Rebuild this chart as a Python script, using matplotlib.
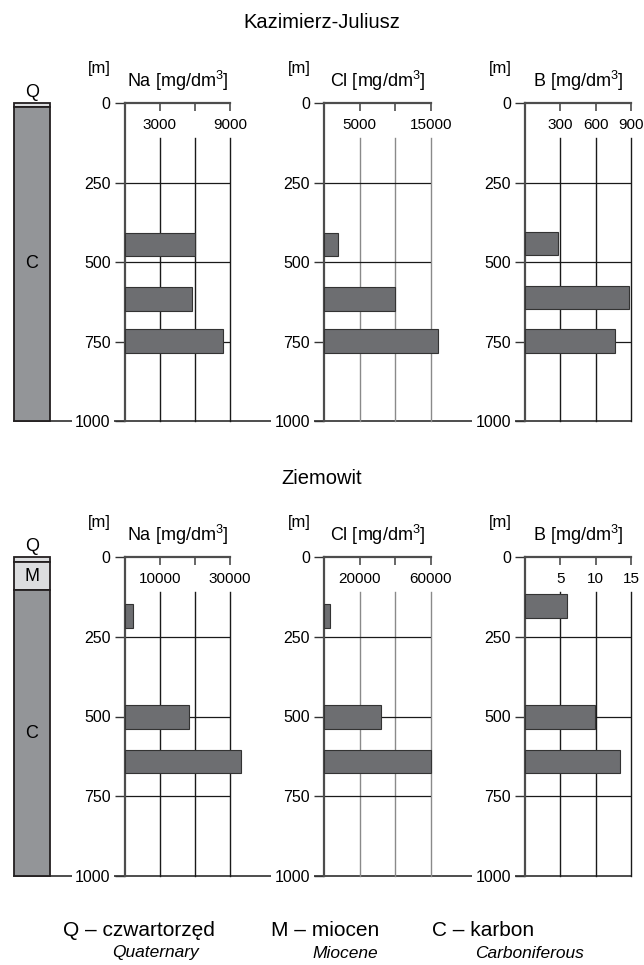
"""Chemistry of mine waters vs depth - two mines"""
import matplotlib
matplotlib.use('Agg')
from matplotlib import pyplot as plt
from matplotlib.lines import Line2D
from matplotlib.transforms import blended_transform_factory

plt.rcParams['font.family'] = ['Liberation Sans', 'DejaVu Sans']
plt.rcParams['mathtext.fontset'] = 'custom'
plt.rcParams['mathtext.rm'] = 'Liberation Sans'
plt.rcParams['mathtext.it'] = 'Liberation Sans:italic'

# --- data -------------------------------------------------------------
elements = ['Na', 'Cl', 'B']
depth_ticks = [0, 250, 500, 750, 1000]

# Kazimierz-Juliusz
kaz_layers = ['Q', 'C']
kaz_layer_top = [0, 12]
kaz_layer_bot = [12, 1000]
kaz_top = [410, 580, 712]
kaz_bot = [482, 655, 787]
kaz_b_top = [405, 575, 712]
kaz_b_bot = [478, 648, 787]
kaz_na = [6000, 5750, 8400]
kaz_cl = [1900, 10000, 16000]
kaz_b = [280, 880, 760]
kaz_xmax = [9000, 15000, 900]
kaz_xlabels = [[3000, 9000], [5000, 15000], [300, 600, 900]]

# Ziemowit
ziem_layers = ['Q', 'M', 'C']
ziem_layer_top = [0, 15, 105]
ziem_layer_bot = [15, 105, 1000]
ziem_top = [148, 464, 604]
ziem_bot = [222, 538, 677]
ziem_b_top = [116, 464, 604]
ziem_b_bot = [191, 538, 677]
ziem_na = [2500, 18300, 33000]
ziem_cl = [3400, 31800, 60000]
ziem_b = [5.9, 9.9, 13.4]
ziem_xmax = [30000, 60000, 15]
ziem_xlabels = [[10000, 30000], [20000, 60000], [5, 10, 15]]

legend_codes = ['Q', 'M', 'C']
legend_pl = ['czwartorzęd', 'miocen', 'karbon']
legend_en = ['Quaternary', 'Miocene', 'Carboniferous']

# --- layout (pixels) --------------------------------------------------
W, H = 644, 965
COL_X = (14, 50)
AX_X = [(124.5, 230), (324, 431), (525, 631)]
LEG_X = [(63, 112), (271, 312), (432, 475)]
SPINE = '#4d4d4d'
BAR = '#6d6e71'
LAYER_COLORS = {'Q': '#dcdddf', 'M': '#dcdddf', 'C': '#939598'}

fig = plt.figure(figsize=(W / 100, H / 100), dpi=100)


def rect(x0, y0, x1, y1):
    return [x0 / W, 1 - y1 / H, (x1 - x0) / W, (y1 - y0) / H]


def draw_column(y0, y1, layers, tops, bots):
    ax = fig.add_axes(rect(COL_X[0], y0, COL_X[1], y1))
    ax.set_xlim(0, 1)
    ax.set_ylim(1000, 0)
    ax.axis('off')
    for name, t, b in zip(layers, tops, bots):
        ax.bar(0.5, b - t, bottom=t, width=1, color=LAYER_COLORS[name],
               edgecolor='#231f20', linewidth=1.3, clip_on=False, zorder=2)
        if b - t < 30:
            ax.text(0.5, t - 6, name, ha='center', va='bottom', fontsize=13)
        else:
            ax.text(0.5, (t + b) / 2, name, ha='center', va='center', fontsize=13)


def draw_chem(y0, y1, k, name, values, tops, bots, xmax, labels):
    x0, x1 = AX_X[k]
    ax = fig.add_axes(rect(x0, y0, x1, y1))
    ax.patch.set_visible(False)
    ax.set_xlim(0, xmax)
    ax.set_ylim(1000, 0)
    centers = [(t + b) / 2 for t, b in zip(tops, bots)]
    heights = [b - t for t, b in zip(tops, bots)]
    ax.barh(centers, values, height=heights, left=0, color=BAR,
            edgecolor='#333333', linewidth=0.8, clip_on=False, zorder=3)
    gcol = '#8a8a8a' if name == 'Cl' else '#1a1a1a'
    for f in (1 / 3, 2 / 3, 1):
        ax.plot([f * xmax, f * xmax], [110, 1000], color=gcol, lw=1,
                clip_on=False, zorder=1)
    for d in (250, 500, 750):
        ax.axhline(d, color='#1a1a1a', lw=0.9, zorder=1)
    for s in ('right', 'bottom'):
        ax.spines[s].set_visible(False)
    for s in ('top', 'left'):
        ax.spines[s].set_color(SPINE)
        ax.spines[s].set_linewidth(1.6)
    ax.set_xticks([xmax / 3, 2 * xmax / 3, xmax])
    ax.tick_params(axis='x', top=True, bottom=False, direction='in', length=6,
                   width=1.2, color=SPINE, labeltop=False, labelbottom=False)
    ax.set_yticks(depth_ticks)
    ax.tick_params(axis='y', direction='out', length=7, width=1, color='#333333',
                   labelsize=11.5, pad=3)
    for t in ax.yaxis.get_major_ticks():
        t.label1.set_bbox(dict(facecolor='white', edgecolor='none', pad=2.5))
    tr = blended_transform_factory(ax.transData, ax.transAxes)
    for v in labels:
        ax.text(v, 1 - 22 / (y1 - y0), str(v), transform=tr, ha='center',
                va='center', fontsize=11)
    fig.text(((x0 + x1) / 2) / W, 1 - (y0 - 16) / H,
             name + r' [mg/dm$^{3}$]', ha='center', va='baseline', fontsize=13)
    fig.text((x0 - 25) / W, 1 - (y0 - 30) / H, '[m]', ha='center',
             va='baseline', fontsize=12)


def draw_panel(title, ty, y0, y1, layers, ltops, lbots, series, xmaxes, xlabels):
    fig.text(322 / W, 1 - ty / H, title, ha='center', va='center', fontsize=14.5)
    draw_column(y0, y1, layers, ltops, lbots)
    for k, (name, (vals, tops, bots)) in enumerate(zip(elements, series)):
        draw_chem(y0, y1, k, name, vals, tops, bots, xmaxes[k], xlabels[k])
    fig.add_artist(Line2D([COL_X[0] / W, AX_X[2][1] / W], [1 - y1 / H] * 2,
                          color=SPINE, lw=1.4, zorder=-1))


draw_panel('Kazimierz-Juliusz', 22, 103, 421, kaz_layers, kaz_layer_top, kaz_layer_bot,
           [(kaz_na, kaz_top, kaz_bot), (kaz_cl, kaz_top, kaz_bot),
            (kaz_b, kaz_b_top, kaz_b_bot)], kaz_xmax, kaz_xlabels)
draw_panel('Ziemowit', 478, 557, 876, ziem_layers, ziem_layer_top, ziem_layer_bot,
           [(ziem_na, ziem_top, ziem_bot), (ziem_cl, ziem_top, ziem_bot),
            (ziem_b, ziem_b_top, ziem_b_bot)], ziem_xmax, ziem_xlabels)

for (xa, xb), code, pl, en in zip(LEG_X, legend_codes, legend_pl, legend_en):
    fig.text(xa / W, 1 - 930 / H, code + ' – ' + pl, ha='left', va='center', fontsize=15)
    fig.text(xb / W, 1 - 953 / H, en, ha='left', va='center', fontsize=12.5,
             style='italic')

fig.savefig('out.png', dpi=100)
